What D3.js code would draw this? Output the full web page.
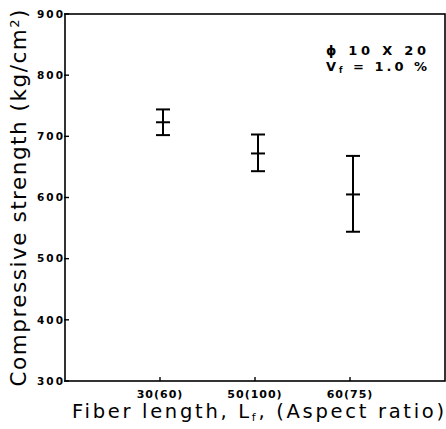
<!DOCTYPE html>
<html>
<head>
<meta charset="utf-8">
<script src="https://cdn.jsdelivr.net/npm/d3@7"></script>
<style>
  body { margin: 0; background: #fff; }
  svg { display: block; }
  text { font-family: "DejaVu Sans", sans-serif; fill: #000; }
</style>
</head>
<body>
<svg id="canvas" width="446" height="429"></svg>
<script>
// values
var categories = ['30(60)', '50(100)', '60(75)'];
var catPos = [1, 2, 3];
var meanVals = [723, 672, 605];
var upperVals = [744, 703, 668];
var lowerVals = [702, 643, 544];
var yTicks = [300, 400, 500, 600, 700, 800, 900];

var svg = d3.select('#canvas');

var x = d3.scaleLinear().domain([0, 4]).range([65, 445]);
var y = d3.scaleLinear().domain([300, 900]).range([381, 14]);

// frame
svg.append('rect')
  .attr('x', x(0)).attr('y', y(900))
  .attr('width', x(4) - x(0)).attr('height', y(300) - y(900))
  .attr('fill', 'none').attr('stroke', '#000').attr('stroke-width', 1.6);

// y ticks (inward) + labels
var yAxis = svg.append('g');
yAxis.selectAll('line').data(yTicks).enter().append('line')
  .attr('x1', x(0) - 1).attr('x2', x(0) + 4)
  .attr('y1', function (d) { return y(d); })
  .attr('y2', function (d) { return y(d); })
  .attr('stroke', '#000').attr('stroke-width', 1.4);
yAxis.selectAll('text').data(yTicks).enter().append('text')
  .attr('x', x(0) - 2)
  .attr('y', function (d) { return y(d); })
  .attr('dy', '0.36em')
  .attr('text-anchor', 'end')
  .attr('font-size', 10.5)
  .attr('font-weight', 'bold')
  .attr('textLength', 26)
  .attr('lengthAdjust', 'spacing')
  .text(function (d) { return d; });

// x ticks (inward) + labels
var xAxis = svg.append('g');
xAxis.selectAll('line').data(catPos).enter().append('line')
  .attr('x1', function (d) { return x(d); })
  .attr('x2', function (d) { return x(d); })
  .attr('y1', y(300)).attr('y2', y(300) - 4)
  .attr('stroke', '#000').attr('stroke-width', 1.4);
xAxis.selectAll('text').data(categories).enter().append('text')
  .attr('x', function (d, i) { return x(catPos[i]); })
  .attr('y', 398)
  .attr('text-anchor', 'middle')
  .attr('font-size', 11)
  .attr('font-weight', 'bold')
  .attr('letter-spacing', 1)
  .text(function (d) { return d; });

// error bars
var capW = 7;
var bars = svg.append('g').attr('transform', 'translate(3,0)');
catPos.forEach(function (c, i) {
  var cx = x(c);
  var g = bars.append('g').attr('stroke', '#000').attr('stroke-width', 2);
  g.append('line').attr('x1', cx).attr('x2', cx)
    .attr('y1', y(upperVals[i])).attr('y2', y(lowerVals[i]));
  [upperVals[i], meanVals[i], lowerVals[i]].forEach(function (v) {
    g.append('line').attr('x1', cx - capW).attr('x2', cx + capW)
      .attr('y1', y(v)).attr('y2', y(v));
  });
});

// axis titles
var yt = svg.append('text')
  .attr('transform', 'translate(26,198) rotate(-90)')
  .attr('text-anchor', 'middle')
  .attr('font-size', 21.5)
  .attr('textLength', 377)
  .attr('lengthAdjust', 'spacing');
yt.append('tspan').text('Compressive strength (kg/cm');
yt.append('tspan').attr('baseline-shift', '55%').attr('font-size', 13).text('2');
yt.append('tspan').text(')');

var xt = svg.append('text')
  .attr('x', 72).attr('y', 418)
  .attr('font-size', 19.5)
  .attr('textLength', 372)
  .attr('lengthAdjust', 'spacing');
xt.append('tspan').text('Fiber length, L');
xt.append('tspan').attr('baseline-shift', '-25%').attr('font-size', 11).text('f');
xt.append('tspan').text(', (Aspect ratio)');

// annotation
svg.append('text')
  .attr('x', 326).attr('y', 55)
  .attr('font-size', 13).attr('font-weight', 'bold')
  .attr('textLength', 100).attr('lengthAdjust', 'spacing')
  .text('\u03d5 10 X 20');
var an = svg.append('text')
  .attr('x', 326).attr('y', 71)
  .attr('font-size', 13).attr('font-weight', 'bold')
  .attr('textLength', 101).attr('lengthAdjust', 'spacing');
an.append('tspan').text('V');
an.append('tspan').attr('baseline-shift', '-20%').attr('font-size', 8).text('f');
an.append('tspan').text(' = 1.0 %');
</script>
</body>
</html>
